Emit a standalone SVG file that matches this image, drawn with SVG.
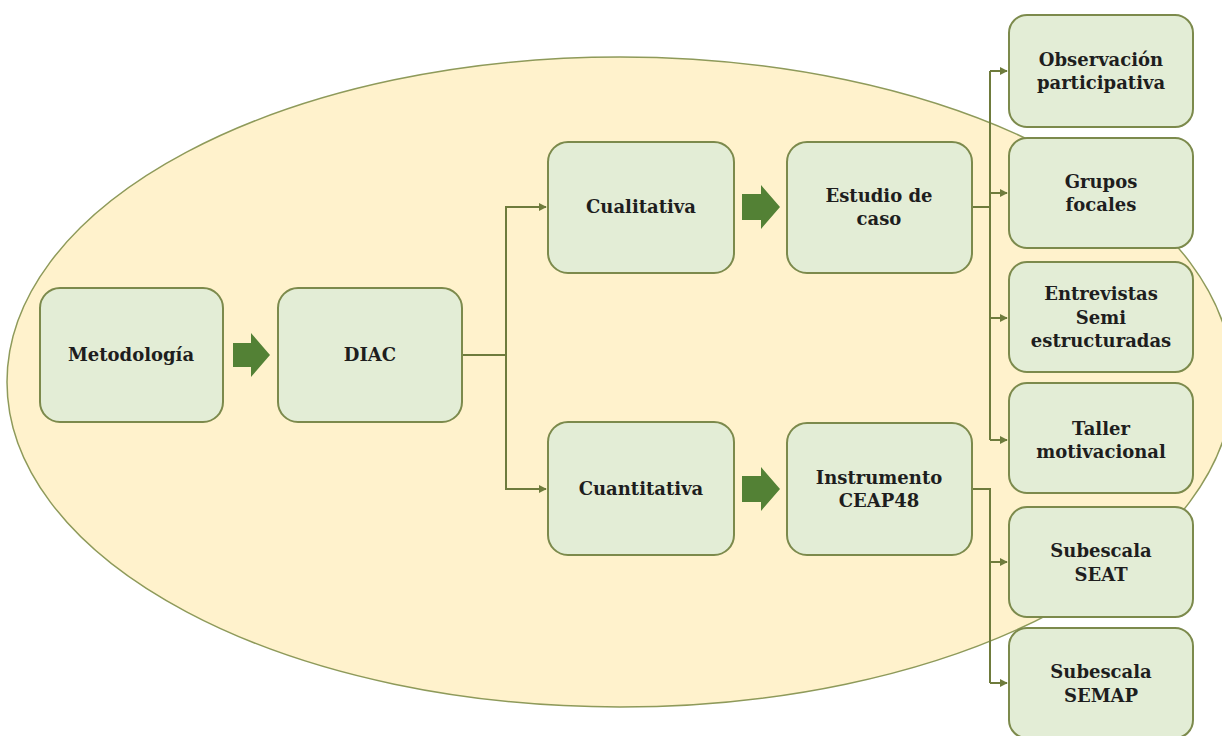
<svg xmlns="http://www.w3.org/2000/svg" width="1222" height="736" viewBox="0 0 1222 736">
<defs>
<style>
.box{fill:#E3EDD6;stroke:#7C8A4C;stroke-width:2}
.t{font-family:"DejaVu Serif","Liberation Serif",serif;font-weight:bold;font-size:18px;fill:#1E1E1E;text-anchor:middle}
.c{fill:none;stroke:#6E7B3C;stroke-width:2}
.blk{fill:#538135}
</style>
<marker id="ah" viewBox="0 0 10 10" refX="9" refY="5" markerWidth="4" markerHeight="4" orient="auto" markerUnits="strokeWidth">
<path d="M0,0 L10,5 L0,10 z" fill="#6E7B3C"/>
</marker>
</defs>
<rect width="1222" height="736" fill="#FFFFFF"/>
<ellipse id="bg" cx="620" cy="382" rx="613" ry="325" fill="#FFF2CC" stroke="#8E9A5A" stroke-width="1.5"/>
<g id="connectors">
<path class="c" d="M462,355 H506 V207 H546" marker-end="url(#ah)"/>
<path class="c" d="M506,355 V489 H546" marker-end="url(#ah)"/>
<path class="c" d="M972,207 H990"/>
<path class="c" d="M990,71 V440"/>
<path class="c" d="M990,71 H1007" marker-end="url(#ah)"/>
<path class="c" d="M990,193 H1007" marker-end="url(#ah)"/>
<path class="c" d="M990,318 H1007" marker-end="url(#ah)"/>
<path class="c" d="M990,440 H1007" marker-end="url(#ah)"/>
<path class="c" d="M972,489 H990 V683"/>
<path class="c" d="M990,562 H1007" marker-end="url(#ah)"/>
<path class="c" d="M990,683 H1007" marker-end="url(#ah)"/>
<polygon class="blk" points="233,343 251,343 251,333 270,355 251,377 251,367 233,367"/>
<polygon class="blk" points="742,194 761,194 761,185 780,207 761,229 761,220 742,220"/>
<polygon class="blk" points="742,476 761,476 761,467 780,489 761,511 761,502 742,502"/>
</g>
<g id="metodologia"><rect class="box" x="40" y="288" width="183" height="134" rx="20"/><text class="t" x="131" y="361">Metodología</text></g>
<g id="diac"><rect class="box" x="278" y="288" width="184" height="134" rx="20"/><text class="t" x="370" y="361">DIAC</text></g>
<g id="cualitativa"><rect class="box" x="548" y="142" width="186" height="131" rx="20"/><text class="t" x="641" y="213">Cualitativa</text></g>
<g id="cuantitativa"><rect class="box" x="548" y="422" width="186" height="133" rx="20"/><text class="t" x="641" y="495">Cuantitativa</text></g>
<g id="estudio"><rect class="box" x="787" y="142" width="185" height="131" rx="20"/><text class="t" x="879" y="202">Estudio de</text><text class="t" x="879" y="225">caso</text></g>
<g id="instrumento"><rect class="box" x="787" y="423" width="185" height="132" rx="20"/><text class="t" x="879" y="484">Instrumento</text><text class="t" x="879" y="507">CEAP48</text></g>
<g id="observacion"><rect class="box" x="1009" y="15" width="184" height="112" rx="18"/><text class="t" x="1101" y="66">Observación</text><text class="t" x="1101" y="89">participativa</text></g>
<g id="grupos"><rect class="box" x="1009" y="138" width="184" height="110" rx="18"/><text class="t" x="1101" y="188">Grupos</text><text class="t" x="1101" y="211">focales</text></g>
<g id="entrevistas"><rect class="box" x="1009" y="262" width="184" height="110" rx="18"/><text class="t" x="1101" y="300">Entrevistas</text><text class="t" x="1101" y="324">Semi</text><text class="t" x="1101" y="347">estructuradas</text></g>
<g id="taller"><rect class="box" x="1009" y="383" width="184" height="110" rx="18"/><text class="t" x="1101" y="435">Taller</text><text class="t" x="1101" y="458">motivacional</text></g>
<g id="seat"><rect class="box" x="1009" y="507" width="184" height="110" rx="18"/><text class="t" x="1101" y="557">Subescala</text><text class="t" x="1101" y="581">SEAT</text></g>
<g id="semap"><rect class="box" x="1009" y="628" width="184" height="110" rx="18"/><text class="t" x="1101" y="678">Subescala</text><text class="t" x="1101" y="702">SEMAP</text></g>
</svg>
